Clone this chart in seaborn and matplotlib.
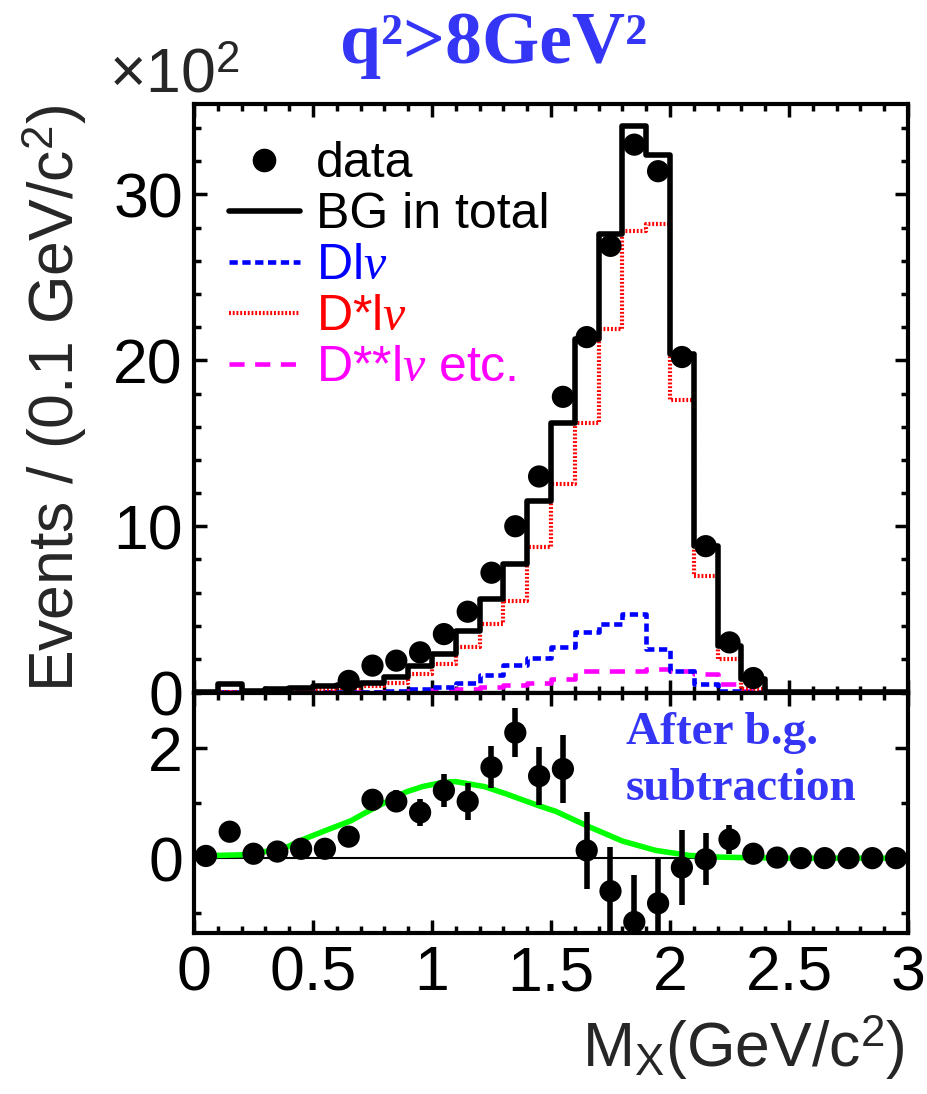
import numpy as np
import pandas as pd
import matplotlib
matplotlib.use("Agg")
import matplotlib.pyplot as plt
import seaborn as sns
from matplotlib.lines import Line2D
from matplotlib.ticker import MultipleLocator, FuncFormatter

# ---------------- data (units of 10^2 events / 0.1 GeV) ----------------
bin_edges = [round(0.1 * i, 2) for i in range(31)]
bin_centers = [round(0.1 * i + 0.05, 3) for i in range(30)]

bg_total = [0.0, 0.48, 0.05, 0.18, 0.28, 0.38, 0.42, 0.58, 0.93, 1.6,
            2.33, 3.7, 5.6, 7.7, 11.5, 16.2, 21.3, 27.6, 34.1, 32.4,
            20.4, 8.8, 2.8, 0.78, 0.0, 0.0, 0.0, 0.0, 0.0, 0.0]
dstar_lnu = [0.0, 0.0, 0.0, 0.0, 0.0, 0.12, 0.25, 0.38, 0.58, 1.08,
             1.69, 2.75, 4.1, 5.5, 8.75, 12.55, 16.2, 21.9, 27.8, 28.2,
             17.6, 7.0, 2.0, 0.2, 0.0, 0.0, 0.0, 0.0, 0.0, 0.0]
d_lnu = [0.0, 0.0, 0.0, 0.0, 0.0, 0.0, 0.0, 0.0, 0.06, 0.18,
         0.34, 0.58, 1.03, 1.63, 2.03, 2.7, 3.6, 4.1, 4.7, 2.6,
         1.3, 0.48, 0.1, 0.0, 0.0, 0.0, 0.0, 0.0, 0.0, 0.0]
dss_lnu = [0.0, 0.0, 0.0, 0.0, 0.0, 0.0, 0.0, 0.0, 0.0, 0.05,
           0.12, 0.2, 0.33, 0.45, 0.57, 0.8, 1.25, 1.25, 1.25, 1.4,
           1.3, 1.1, 0.48, 0.1, 0.0, 0.0, 0.0, 0.0, 0.0, 0.0]

data_x = [0.65, 0.75, 0.85, 0.95, 1.05, 1.15, 1.25, 1.35, 1.45, 1.55,
          1.65, 1.75, 1.85, 1.95, 2.05, 2.15, 2.25, 2.35]
data_y = [0.68, 1.6, 1.9, 2.4, 3.5, 4.85, 7.2, 10.0, 13.0, 17.8,
          21.4, 26.9, 33.0, 31.4, 20.2, 8.8, 3.0, 0.85]

sub_x = [0.05, 0.15, 0.25, 0.35, 0.45, 0.55, 0.65, 0.75, 0.85, 0.95,
         1.05, 1.15, 1.25, 1.35, 1.45, 1.55, 1.65, 1.75, 1.85, 1.95,
         2.05, 2.15, 2.25, 2.35, 2.45, 2.55, 2.65, 2.75, 2.85, 2.95]
sub_y = [0.04, 0.48, 0.08, 0.12, 0.17, 0.17, 0.39, 1.06, 1.03, 0.83,
         1.23, 1.03, 1.65, 2.28, 1.49, 1.62, 0.14, -0.6, -1.16, -0.82,
         -0.17, -0.02, 0.34, 0.08, 0.01, 0.0, 0.0, 0.0, 0.0, 0.0]
sub_err = [0.05, 0.1, 0.05, 0.08, 0.1, 0.12, 0.15, 0.18, 0.2, 0.25,
           0.3, 0.34, 0.38, 0.45, 0.52, 0.62, 0.7, 0.8, 0.86, 0.82,
           0.68, 0.47, 0.27, 0.1, 0.02, 0.01, 0.01, 0.01, 0.01, 0.01]

green_x = [0.0, 0.1, 0.2, 0.3, 0.39, 0.47, 0.57, 0.66, 0.71, 0.77, 0.89,
           0.96, 1.05, 1.10, 1.22, 1.31, 1.45, 1.52, 1.66, 1.80, 1.94,
           2.08, 2.2, 2.3, 2.5, 3.0]
green_y = [0.05, 0.05, 0.06, 0.12, 0.2, 0.36, 0.53, 0.68, 0.80, 0.94, 1.2,
           1.30, 1.38, 1.39, 1.30, 1.17, 0.95, 0.85, 0.57, 0.31, 0.14,
           0.05, 0.02, 0.01, 0.0, 0.0]

legend_labels = ["data", "BG in total", r"Dl$\nu$", r"D*l$\nu$", r"D**l$\nu$ etc."]

# ---------------- style ----------------
sns.set_style("ticks")
plt.rcParams["font.family"] = ["Liberation Sans", "DejaVu Sans"]
plt.rcParams["mathtext.fontset"] = "custom"
plt.rcParams["mathtext.rm"] = "Liberation Sans"
plt.rcParams["mathtext.it"] = "Liberation Serif:italic"
plt.rcParams["mathtext.bf"] = "Liberation Sans:bold"

W, H = 928, 1094
fig = plt.figure(figsize=(W / 100, H / 100), dpi=100)
fig.patch.set_facecolor("white")

x0, x1 = 194, 908
ax_top = fig.add_axes([x0 / W, 1 - 693 / H, (x1 - x0) / W, (693 - 104) / H])
ax_bot = fig.add_axes([x0 / W, 1 - 933 / H, (x1 - x0) / W, (933 - 693) / H])


def hist(ax, vals, **kw):
    df = pd.DataFrame({"x": bin_centers, "w": vals})
    sns.histplot(data=df, x="x", weights="w", bins=bin_edges, element="step",
                 fill=False, ax=ax, **kw)


RED_LS = (0, (0.45, 0.45))
BLUE_LS = (0, (1.8, 1.0))
MAG_LS = (0, (3.3, 2.3))

hist(ax_top, dss_lnu, color="magenta", linewidth=3.3, linestyle=MAG_LS)
hist(ax_top, d_lnu, color="blue", linewidth=3.3, linestyle=BLUE_LS)
hist(ax_top, dstar_lnu, color="red", linewidth=3.0, linestyle=RED_LS)
hist(ax_top, bg_total, color="black", linewidth=4)
sns.scatterplot(x=data_x, y=data_y, ax=ax_top, color="black", s=256,
                edgecolor="none", zorder=5)

ax_top.set_xlim(0, 3)
ax_top.set_ylim(-0.05, 35.45)
ax_top.set_xlabel("")
ax_top.set_ylabel("")

handles = [
    Line2D([], [], marker="o", ls="none", color="black", markersize=16),
    Line2D([], [], color="black", lw=4),
    Line2D([], [], color="blue", lw=3.3, ls=BLUE_LS),
    Line2D([], [], color="red", lw=3.0, ls=RED_LS),
    Line2D([], [], color="magenta", lw=3.3, ls=MAG_LS),
]
leg = ax_top.legend(handles, legend_labels, loc="upper left",
                    bbox_to_anchor=(0.049, 0.937), frameon=False, fontsize=36,
                    handlelength=1.42, handletextpad=0.32, labelspacing=0.1,
                    borderpad=0, borderaxespad=0)
for t, c in zip(leg.get_texts(), ["black", "black", "blue", "red", "magenta"]):
    t.set_color(c)

# bottom panel
ax_bot.axhline(0, color="black", lw=1.5, zorder=1)
sns.lineplot(x=green_x, y=green_y, ax=ax_bot, color="#00ff00", lw=4, zorder=2)
ax_bot.errorbar(sub_x, sub_y, yerr=sub_err, fmt="none", ecolor="black",
                elinewidth=4, capsize=0, zorder=3)
sns.scatterplot(x=sub_x, y=sub_y, ax=ax_bot, color="black", s=256,
                edgecolor="none", zorder=5)
ax_bot.set_xlim(0, 3)
ax_bot.set_ylim(-1.36, 3.0)
ax_bot.set_xlabel("")
ax_bot.set_ylabel("")

fmt = FuncFormatter(lambda v, p: "%g" % v)
for ax in (ax_top, ax_bot):
    for s in ax.spines.values():
        s.set_linewidth(3)
        s.set_color("black")
        s.set_visible(True)
    ax.xaxis.set_major_locator(MultipleLocator(0.5))
    ax.xaxis.set_minor_locator(MultipleLocator(0.1))
    ax.xaxis.set_major_formatter(fmt)
    ax.yaxis.set_major_formatter(fmt)
    ax.tick_params(which="both", direction="in", top=True, right=True,
                   width=2.5, color="black", labelsize=45, labelcolor="black")
    ax.tick_params(which="major", length=9.5, pad=8)
    ax.tick_params(which="minor", length=5)
    ax.set_facecolor("white")
    ax.grid(False)

ax_top.yaxis.set_major_locator(MultipleLocator(10))
ax_top.yaxis.set_minor_locator(MultipleLocator(2))
ax_top.tick_params(labelbottom=False)
ax_bot.yaxis.set_major_locator(MultipleLocator(2))
ax_bot.yaxis.set_minor_locator(MultipleLocator(1))

# texts
fig.text(55 / W, 1 - 398 / H, r"Events / (0.1 GeV/c$^2$)", rotation=90,
         ha="center", va="center", fontsize=45)
fig.text(905 / W, 1 - 1067 / H, r"M$_\mathrm{X}$(GeV/c$^2$)", ha="right",
         va="baseline", fontsize=45)
fig.text(109 / W, 1 - 92 / H, r"×10$^2$", ha="left", va="baseline", fontsize=45)
fig.text(494 / W, 1 - 63 / H, "q²>8GeV²", ha="center", va="baseline",
         fontsize=53, fontweight="bold", family="Liberation Serif", color="#3535f5")
fig.text(626 / W, 1 - 744 / H, "After b.g.", ha="left", va="baseline",
         fontsize=34, fontweight="bold", family="Liberation Serif", color="#3535f5")
fig.text(626 / W, 1 - 800 / H, "subtraction", ha="left", va="baseline",
         fontsize=34, fontweight="bold", family="Liberation Serif", color="#3535f5")

fig.savefig("out.png", dpi=100)
